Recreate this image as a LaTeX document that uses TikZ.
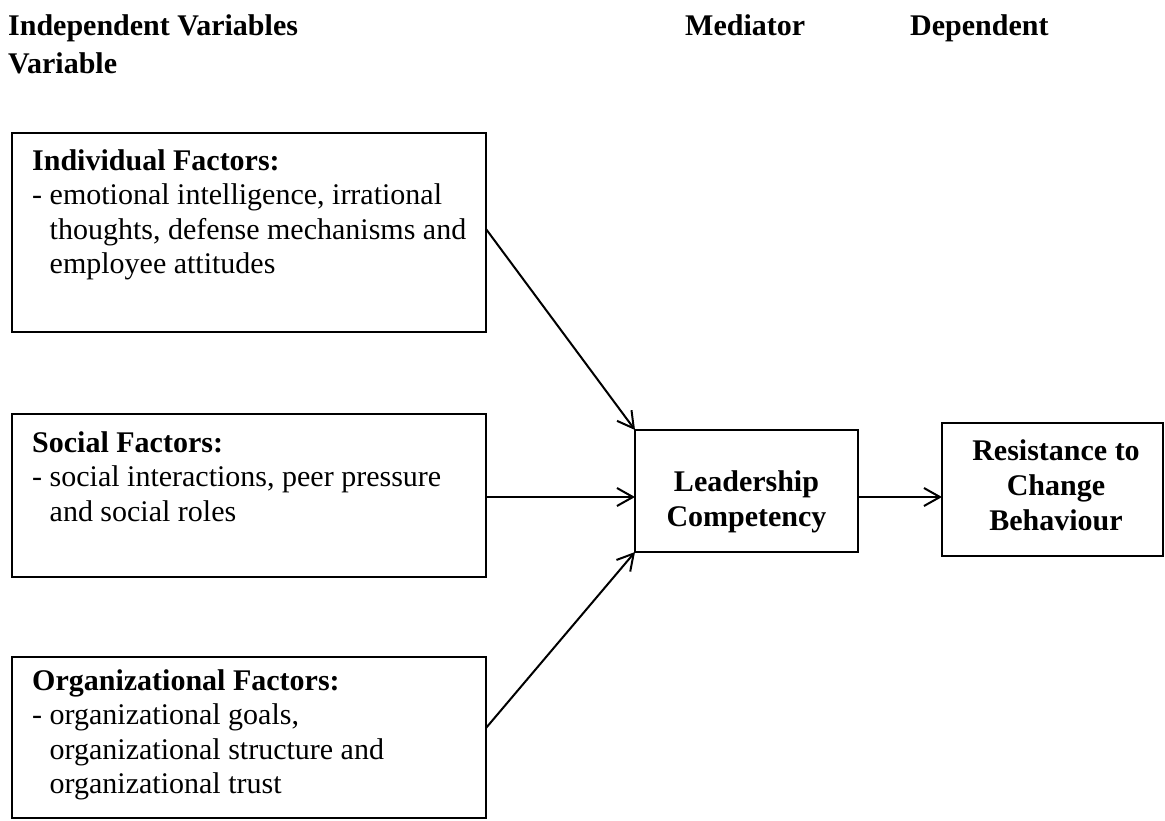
\documentclass[tikz,border=0pt]{standalone}
\usepackage{fontspec}
\setmainfont{Liberation Serif}
\usetikzlibrary{arrows.meta}
\tikzset{
  boxnode/.style={draw, line width=1.6pt, inner sep=0pt, outer sep=0pt},
  bodytext/.style={anchor=north west, inner sep=0pt, align=left, font=\fontsize{30}{34.5}\selectfont},
  boldtext/.style={anchor=north, inner sep=0pt, align=center, font=\fontsize{30}{35}\selectfont\bfseries},
  headtext/.style={anchor=north west, inner sep=0pt, align=left, font=\fontsize{30}{38}\selectfont\bfseries},
  link/.style={line width=2pt, -{Straight Barb[length=16pt,width=18pt,line width=2pt]}},
}
\newcommand\topstrut{\rule{0pt}{25pt}}
\newcommand\contind{\hspace*{17.5pt}}
\begin{document}
\begin{tikzpicture}[x=1pt,y=-1pt]
\useasboundingbox[fill=white] (0,0) rectangle (1165,820);
% headers
\node[headtext] (hind) at (8,10) {\topstrut Independent Variables\\Variable};
\node[headtext] (hmed) at (685,10) {\topstrut Mediator};
\node[headtext] (hdep) at (910,10) {\topstrut Dependent};
% boxes
\node[boxnode, minimum width=474pt, minimum height=199pt] (ind) at (249,232.5) {};
\node[boxnode, minimum width=474pt, minimum height=163pt] (soc) at (249,495.5) {};
\node[boxnode, minimum width=474pt, minimum height=161pt] (org) at (249,737.5) {};
\node[boxnode, minimum width=223pt, minimum height=122pt] (lead) at (746.5,491) {};
\node[boxnode, minimum width=221pt, minimum height=133pt] (res) at (1052.5,489.5) {};
% box texts
\node[bodytext] (indtxt) at (32,145) {\topstrut\textbf{Individual Factors:}\\- emotional intelligence, irrational\\\contind thoughts, defense mechanisms and\\\contind employee attitudes};
\node[bodytext] (soctxt) at (32,427) {\topstrut\textbf{Social Factors:}\\- social interactions, peer pressure\\\contind and social roles};
\node[bodytext] (orgtxt) at (32,665) {\topstrut\textbf{Organizational Factors:}\\- organizational goals,\\\contind organizational structure and\\\contind organizational trust};
\node[boldtext] (leadtxt) at (746.5,466) {\topstrut Leadership\\Competency};
\node[boldtext] (restxt) at (1056,435) {\topstrut Resistance to\\Change\\Behaviour};
% connectors
\coordinate (midy) at (0,497);
\draw[link] ([yshift=3.5pt]ind.east) -- (lead.north west);
\draw[link] (soc.east |- midy) -- (lead.west |- midy);
\draw[link] ([yshift=9.5pt]org.east) -- (lead.south west);
\draw[link] (lead.east |- midy) -- (res.west |- midy);
\end{tikzpicture}
\end{document}
